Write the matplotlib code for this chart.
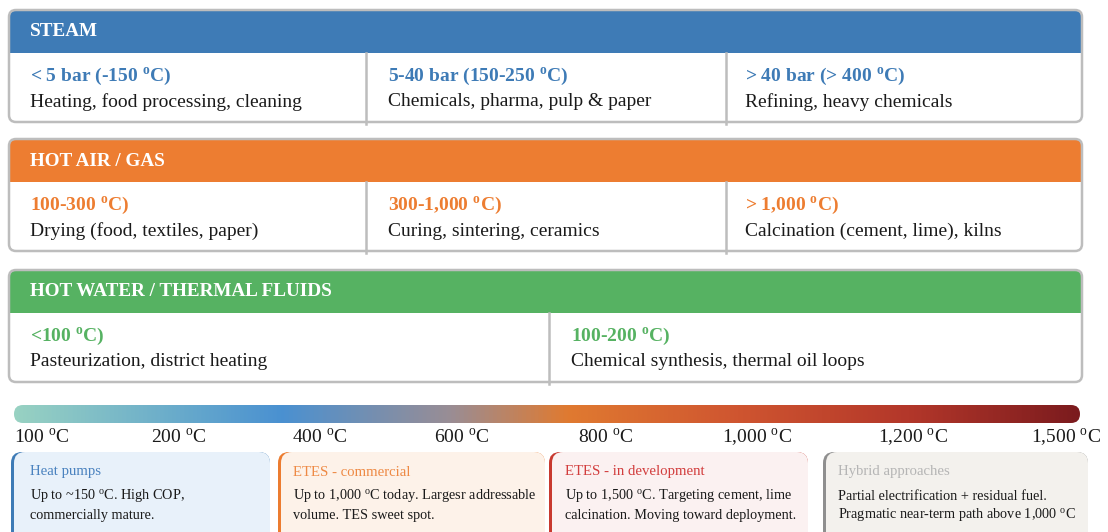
"""Industrial heat demand by carrier and temperature band, with technology notes."""

import matplotlib.pyplot as plt
import numpy as np
from matplotlib.colors import LinearSegmentedColormap
from matplotlib.patches import FancyBboxPatch, Rectangle

plt.rcParams["font.family"] = ["Liberation Serif", "DejaVu Serif"]
plt.rcParams["mathtext.fontset"] = "custom"
plt.rcParams["mathtext.rm"] = "Liberation Serif"
plt.rcParams["mathtext.bf"] = "Liberation Serif:bold"

DEG = r"$^{\mathrm{o}}$C"
DEG_BF = r"$^{\mathbf{o}}$C"

# carrier panels: header, (band, uses) per column
SECTION_NAMES = ["STEAM", "HOT AIR / GAS", "HOT WATER / THERMAL FLUIDS"]
SECTION_COLORS = ["#3e7bb6", "#ed7d31", "#56b262"]
STEAM_BANDS = [f"< 5 bar (-150 {DEG_BF})", f"5-40 bar (150-250 {DEG_BF})", f"> 40 bar (> 400 {DEG_BF})"]
STEAM_USES = ["Heating, food processing, cleaning", "Chemicals, pharma, pulp & paper",
              "Refining, heavy chemicals"]
AIR_BANDS = [f"100-300 {DEG_BF})", f"300-1,000 {DEG_BF})", f"> 1,000 {DEG_BF})"]
AIR_USES = ["Drying (food, textiles, paper)", "Curing, sintering, ceramics",
            "Calcination (cement, lime), kilns"]
WATER_BANDS = [f"<100 {DEG_BF})", f"100-200 {DEG_BF})"]
WATER_USES = ["Pasteurization, district heating", "Chemical synthesis, thermal oil loops"]

# temperature scale
SCALE_LABELS = ["100", "200", "400", "600", "800", "1,000", "1,200", "1,500"]
SCALE_COLORS = ["#98d2c2", "#4a91d1", "#9a8d94", "#e07a30", "#cf5530", "#b3372a", "#7b1b1e"]
SCALE_STOPS = [0.0, 0.25, 0.41, 0.52, 0.68, 0.84, 1.0]

# technology cards
CARD_TITLES = ["Heat pumps", "ETES - commercial", "ETES - in development", "Hybrid approaches"]
CARD_LINES = [
    [f"Up to ~150 {DEG}. High COP,", "commercially mature."],
    [f"Up to 1,000 {DEG} today. Largesr addressable", "volume. TES sweet spot."],
    [f"Up to 1,500 {DEG}. Targeting cement, lime", "calcination. Moving toward deployment."],
    ["Partial electrification + residual fuel.", f"Pragmatic near-term path above 1,000 {DEG}"],
]
CARD_EDGE = ["#3e7bb6", "#ec7c30", "#c8392f", "#8f8f8f"]
CARD_FACE = ["#e8f1fa", "#fdf2e9", "#fbf1f1", "#f3f1ed"]
CARD_TITLE_COLORS = ["#4a82bf", "#ee8a45", "#d23d3d", "#b5b5b5"]

BORDER = "#bdbdbd"
INK = "#1a1a1a"


def panel(ax, top, name, color, bands, uses, dividers, text_x):
    left, right, head_h, height = 9, 1082, 43, 112
    ax.add_patch(FancyBboxPatch((left, top), right - left, height,
                                boxstyle="round,pad=0,rounding_size=7",
                                fc="white", ec="none", zorder=1))
    ax.add_patch(FancyBboxPatch((left, top), right - left, head_h,
                                boxstyle="round,pad=0,rounding_size=7",
                                fc=color, ec="none", zorder=2))
    ax.add_patch(Rectangle((left, top + 15), right - left, head_h - 15,
                           fc=color, ec="none", zorder=2))
    for x in dividers:
        ax.plot([x, x], [top + head_h, top + height + 2], color=BORDER, lw=1.8, zorder=3)
    ax.add_patch(FancyBboxPatch((left, top), right - left, height,
                                boxstyle="round,pad=0,rounding_size=7",
                                fc="none", ec=BORDER, lw=1.8, zorder=4))
    ax.text(30, top + 22, name, color="white", fontsize=13.8, fontweight="bold",
            va="center", ha="left", zorder=5)
    for x, band, use in zip(text_x, bands, uses):
        ax.text(x, top + 67, band, color=color, fontsize=14, fontweight="bold",
                va="center", ha="left", zorder=5)
        ax.text(x, top + 92, use, color=INK, fontsize=14, va="center", ha="left", zorder=5)


fig = plt.figure(figsize=(11.08, 5.32), dpi=100)
ax = fig.add_axes([0, 0, 1, 1])
ax.set_xlim(0, 1108)
ax.set_ylim(532, 0)
ax.axis("off")

panel(ax, 10, SECTION_NAMES[0], SECTION_COLORS[0], STEAM_BANDS, STEAM_USES,
      [366, 726], [30, 388, 745])
panel(ax, 139, SECTION_NAMES[1], SECTION_COLORS[1], AIR_BANDS, AIR_USES,
      [366, 726], [30, 388, 745])
panel(ax, 270, SECTION_NAMES[2], SECTION_COLORS[2], WATER_BANDS, WATER_USES,
      [549], [30, 571])

# gradient temperature bar with rounded ends
cmap = LinearSegmentedColormap.from_list("temp", list(zip(SCALE_STOPS, SCALE_COLORS)))
bar = FancyBboxPatch((14, 405), 1066, 18, boxstyle="round,pad=0,rounding_size=9",
                     fc="none", ec="none")
ax.add_patch(bar)
img = ax.imshow(np.linspace(0, 1, 512)[None, :], cmap=cmap, aspect="auto",
                extent=[14, 1080, 423, 405], zorder=2)
img.set_clip_path(bar)

label_x = [14, 151, 292, 434, 578, 722, 878, 1031]
for x, lab in zip(label_x, SCALE_LABELS):
    ax.text(x, 438, f"{lab} {DEG}", color=INK, fontsize=14, va="center", ha="left")

card_left = [11, 278, 549, 823]
card_right = [270, 545, 808, 1088]
text_left = [30, 293, 565, 838]
for i, title in enumerate(CARD_TITLES):
    x0, x1 = card_left[i], card_right[i]
    ax.add_patch(FancyBboxPatch((x0, 452), x1 - x0, 100,
                                boxstyle="round,pad=0,rounding_size=11",
                                fc=CARD_EDGE[i], ec="none", zorder=1))
    ax.add_patch(FancyBboxPatch((x0 + 3, 452), x1 - x0 - 3, 100,
                                boxstyle="round,pad=0,rounding_size=11",
                                fc=CARD_FACE[i], ec="none", zorder=2))
    ax.text(text_left[i], 472, title, color=CARD_TITLE_COLORS[i], fontsize=10.6,
            va="center", ha="left", zorder=3)
    for j, line in enumerate(CARD_LINES[i]):
        ax.text(text_left[i], 496 + 19.5 * j, line, color=INK, fontsize=10.3,
                va="center", ha="left", zorder=3)

fig.savefig("out.png", dpi=100)
